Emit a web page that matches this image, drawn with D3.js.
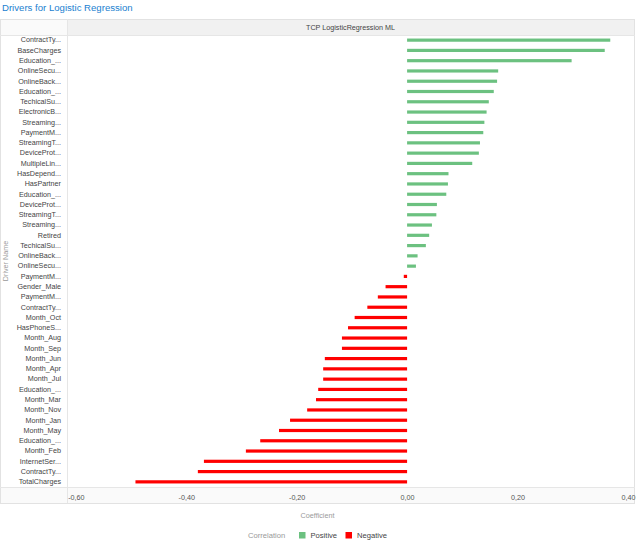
<!DOCTYPE html>
<html><head><meta charset="utf-8">
<script src="https://cdn.jsdelivr.net/npm/d3@7"></script>
<style>
html,body{margin:0;padding:0;background:#fff;}
svg{display:block;font-family:"Liberation Sans",Arial,Helvetica,sans-serif;}
</style></head>
<body>
<svg id="chart" width="640" height="544"></svg>
<script>
const categories = ["ContractTy...","BaseCharges","Education_...","OnlineSecu...","OnlineBack...","Education_...","TechicalSu...","ElectronicB...","Streaming...","PaymentM...","StreamingT...","DeviceProt...","MultipleLin...","HasDepend...","HasPartner","Education_...","DeviceProt...","StreamingT...","Streaming...","Retired","TechicalSu...","OnlineBack...","OnlineSecu...","PaymentM...","Gender_Male","PaymentM...","ContractTy...","Month_Oct","HasPhoneS...","Month_Aug","Month_Sep","Month_Jun","Month_Apr","Month_Jul","Education_...","Month_Mar","Month_Nov","Month_Jan","Month_May","Education_...","Month_Feb","InternetSer...","ContractTy...","TotalCharges"];
const coefficients = [0.368,0.358,0.298,0.165,0.163,0.157,0.148,0.144,0.140,0.138,0.132,0.130,0.118,0.075,0.074,0.071,0.054,0.053,0.045,0.040,0.034,0.019,0.016,-0.006,-0.039,-0.053,-0.072,-0.095,-0.107,-0.118,-0.118,-0.149,-0.152,-0.152,-0.161,-0.165,-0.181,-0.212,-0.232,-0.266,-0.292,-0.368,-0.379,-0.492];
const xTicks = [-0.6,-0.4,-0.2,0,0.2,0.4];
const legendItems = ["Positive","Negative"];
const colors = {Positive:"#6cc180", Negative:"#ff0000"};

const svg = d3.select("#chart");
const L = 67, R = 634, T = 35, B = 487, TOP = 19, BOT = 503;

const x = d3.scaleLinear().domain([-0.616, 0.411]).range([L, R]);
const y = d3.scaleBand().domain(d3.range(categories.length)).range([T, B]);

const loc = d3.formatLocale({decimal:",", thousands:".", grouping:[3], currency:["",""], minus:"-"});
const fmt = loc.format(".2f");

// title
svg.append("text").attr("x",2).attr("y",11).attr("fill","#1b7fd0")
  .attr("font-size",9.6).text("Drivers for Logistic Regression");

// frame
svg.append("rect").attr("x",0.5).attr("y",TOP+0.5).attr("width",R+0.5).attr("height",T-TOP).attr("fill","#fafafa");
svg.append("rect").attr("x",L).attr("y",TOP+0.5).attr("width",R-L).attr("height",T-TOP).attr("fill","#f1f1f1");
svg.append("rect").attr("x",0.5).attr("y",B).attr("width",R).attr("height",BOT-B).attr("fill","#fafafa");
svg.append("rect").attr("x",0.5).attr("y",TOP+0.5).attr("width",R).attr("height",BOT-TOP)
  .attr("fill","none").attr("stroke","#e2e2e2");
[[L+0.5,TOP,L+0.5,BOT],[0,T+0.5,R+1,T+0.5],[0,B+0.5,R+1,B+0.5]].forEach(l=>{
  svg.append("line").attr("x1",l[0]).attr("y1",l[1]).attr("x2",l[2]).attr("y2",l[3]).attr("stroke","#e6e6e6");
});

// header
svg.append("text").attr("x",(L+R)/2).attr("y",30).attr("text-anchor","middle")
  .attr("font-size",7.2).attr("fill","#444").text("TCP LogisticRegression ML");

// bars
const bh = 3.2;
svg.append("g").selectAll("rect").data(coefficients).join("rect")
  .attr("x", d => x(Math.min(0,d)))
  .attr("width", d => Math.abs(x(d)-x(0)))
  .attr("y", (d,i) => y(i) + y.bandwidth()/2 - bh/2)
  .attr("height", bh)
  .attr("fill", d => d >= 0 ? colors.Positive : colors.Negative);

// y axis
const yAxis = d3.axisLeft(y).tickSize(0).tickPadding(0).tickFormat(i => categories[i]);
const gy = svg.append("g").attr("transform",`translate(61,0)`).call(yAxis);
gy.select(".domain").remove();
gy.selectAll("text").attr("font-size",7.2).attr("fill","#444").attr("font-family","Liberation Sans, Arial, sans-serif");

// x axis
const xAxis = d3.axisBottom(x).tickValues(xTicks).tickSize(0).tickPadding(0).tickFormat(fmt);
const gx = svg.append("g").attr("transform",`translate(0,495)`).call(xAxis);
gx.select(".domain").remove();
gx.selectAll("text").attr("font-size",7.2).attr("fill","#555").attr("font-family","Liberation Sans, Arial, sans-serif");

// axis titles
svg.append("text").attr("x",317.5).attr("y",518).attr("text-anchor","middle")
  .attr("font-size",7.2).attr("fill","#999").text("Coefficient");
svg.append("text").attr("transform",`translate(8,${(T+B)/2}) rotate(-90)`).attr("text-anchor","middle")
  .attr("font-size",7.2).attr("fill","#999").text("Driver Name");

// legend
svg.append("text").attr("x",248).attr("y",538).attr("font-size",7.6).attr("fill","#999").text("Correlation");
const lx = [299, 345.5];
legendItems.forEach((k,i)=>{
  svg.append("rect").attr("x",lx[i]).attr("y",532).attr("width",6.5).attr("height",6.5).attr("fill",colors[k]);
  svg.append("text").attr("x",lx[i]+11.5).attr("y",538).attr("font-size",7.6).attr("fill","#444").text(k);
});
</script>
</body></html>
